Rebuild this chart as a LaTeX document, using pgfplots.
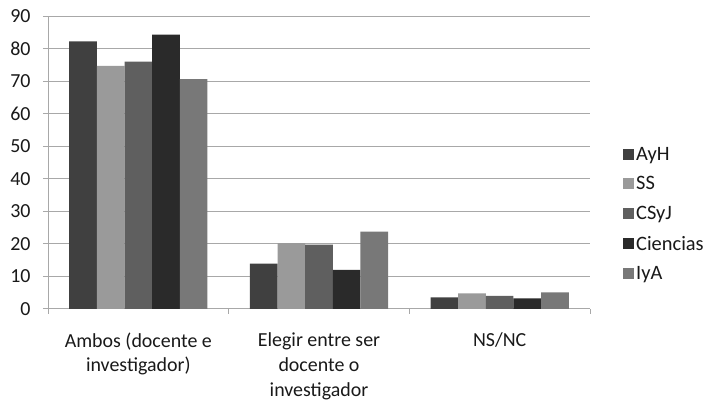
\documentclass[border=0pt]{standalone}
\usepackage{pgfplots}
\pgfplotsset{compat=1.18}
\usepackage{fontspec}
\setmainfont{Carlito}
\definecolor{cAyH}{HTML}{404040}
\definecolor{cSS}{HTML}{9A9A9A}
\definecolor{cCSyJ}{HTML}{5F5F5F}
\definecolor{cCien}{HTML}{2A2A2A}
\definecolor{cIyA}{HTML}{787878}
\definecolor{gridc}{HTML}{A8A8A8}
\begin{document}
\begin{tikzpicture}
\begin{axis}[
  scale only axis, width=542bp, height=293bp,
  ybar=0pt, bar width=0.153,
  xmin=-0.5, xmax=2.5, ymin=0, ymax=90,
  ytick={0,10,...,90},
  xtick={-0.5,0.5,1.5,2.5}, xticklabels={},
  extra x ticks={0,1,2},
  extra x tick labels={{Ambos (docente e\\investigador)},{Elegir entre ser\\docente o\\investigador},{NS/NC}},
  extra x tick style={tick style={draw=none}},
  xticklabel style={align=center, yshift=-15bp, font=\fontsize{20}{25}\selectfont},
  yticklabel style={xshift=-9bp, font=\fontsize{20}{22}\selectfont},
  axis x line*=bottom, axis y line*=left,
  axis line style={draw=gridc, line width=1pt},
  tick style={draw=gridc, line width=1pt},
  tick align=outside, major tick length=5bp,
  ymajorgrids, grid style={draw=gridc, line width=1pt},
  tick label style={text=black!90},
  /pgf/number format/assume math mode=true,
  legend style={at={(1,0.324)}, anchor=west, xshift=30bp, draw=none,
    font=\fontsize{20.5}{22}\selectfont, text=black!90, row sep=11bp,
    /tikz/every even column/.append style={column sep=0pt}},
  legend image code/.code={\fill[#1] (0bp,-5.5bp) rectangle (11bp,5.5bp);},
  legend cell align=left,
]
\addplot[draw=none, fill=cAyH] coordinates {(0,82.2) (1,13.9) (2,3.6)};
\addplot[draw=none, fill=cSS] coordinates {(0,74.7) (1,20.2) (2,4.8)};
\addplot[draw=none, fill=cCSyJ] coordinates {(0,76.0) (1,19.8) (2,4.0)};
\addplot[draw=none, fill=cCien] coordinates {(0,84.3) (1,12.0) (2,3.3)};
\addplot[draw=none, fill=cIyA] coordinates {(0,70.6) (1,23.8) (2,5.1)};
\legend{AyH, SS, CSyJ, Ciencias, IyA}
\end{axis}
\path (current axis.south west) ++(-48bp,-91bp) rectangle ++(711bp,400bp);
\end{tikzpicture}
\end{document}
